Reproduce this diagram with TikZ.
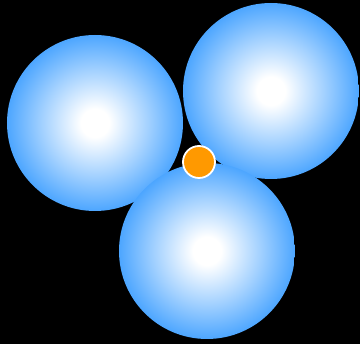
\documentclass[tikz,border=0pt]{standalone}
\usetikzlibrary{shadings}

\definecolor{bubbleblue}{HTML}{3399FF}
\definecolor{dotorange}{HTML}{FF9900}
\pgfdeclareradialshading{bubbleshade}{\pgfpoint{0bp}{0bp}}{%
  color(0bp)=(white); color(4bp)=(white); color(15bp)=(bubbleblue!45!white);
  color(28bp)=(bubbleblue); color(50bp)=(bubbleblue)}

\begin{document}
\begin{tikzpicture}[
    x=1pt, y=-1pt,
    bubble/.style={circle, minimum size=176pt, inner sep=0pt, shading=bubbleshade},
    dot/.style   ={circle, minimum size=32pt, inner sep=0pt, fill=dotorange,
                   draw=white, line width=1.8pt},
]

% -- Background ------------------------------------------------------
\fill[black] (0,0) rectangle (360,344);
\useasboundingbox (0,0) rectangle (360,344);

% -- Bubbles ---------------------------------------------------------
\node[bubble] (left)   at (95,123)  {};
\node[bubble] (right)  at (271,91)  {};
\node[bubble] (bottom) at (207,251) {};

% -- Marker ----------------------------------------------------------
\node[dot]    (mark)   at (199,162) {};

\end{tikzpicture}
\end{document}
